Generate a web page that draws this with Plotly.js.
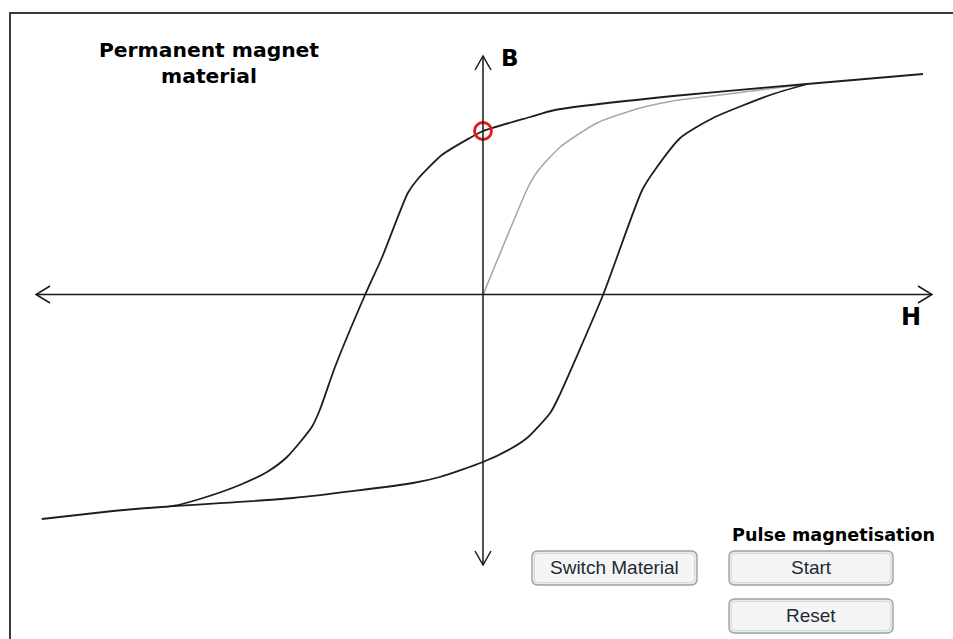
<!DOCTYPE html>
<html>
<head>
<meta charset="utf-8">
<script src="https://cdn.plot.ly/plotly-3.0.1.min.js"></script>
<style>
html,body{margin:0;padding:0;background:#fff;overflow:hidden;}
#chart{width:953px;height:639px;}
</style>
</head>
<body>
<div id="chart"></div>
<script>
// Hysteresis loop of a permanent magnet material (H in kA/m, B in T)
var downH = [1100, 810, 475, 180, 118, 0, -33, -103, -165, -188, -253, -295, -370, -408, -428, -490, -540, -608, -700, -775, -840, -925, -1103];
var downB = [1.105, 1.055, 0.995, 0.925, 0.89, 0.82, 0.785, 0.70, 0.575, 0.51, 0.185, 0, -0.36, -0.575, -0.66, -0.81, -0.885, -0.95, -1.015, -1.055, -1.065, -1.08, -1.12];
var upH = [-775, -475, -175, -108, 0, 68, 110, 168, 188, 300, 398, 435, 493, 575, 718, 810];
var upB = [-1.055, -1.015, -0.94, -0.91, -0.835, -0.77, -0.715, -0.59, -0.515, 0, 0.525, 0.64, 0.785, 0.885, 1.0, 1.055];
var initH = [0, 113, 135, 193, 285, 393, 475, 593, 810];
var initB = [0, 0.54, 0.615, 0.74, 0.86, 0.935, 0.97, 1.0, 1.055];
var remanenceH = [0];
var remanenceB = [0.82];

var W = 953, Hh = 639;
function px(x){ return x / W; }
function py(y){ return 1 - y / Hh; }

function roundRect(x0, y0, x1, y1, r){
  var rx = r / W, ry = r / Hh;
  var a = px(x0), b = px(x1), t = py(y0), u = py(y1);
  return 'M ' + (a+rx) + ' ' + t +
    ' L ' + (b-rx) + ' ' + t + ' Q ' + b + ' ' + t + ' ' + b + ' ' + (t-ry) +
    ' L ' + b + ' ' + (u+ry) + ' Q ' + b + ' ' + u + ' ' + (b-rx) + ' ' + u +
    ' L ' + (a+rx) + ' ' + u + ' Q ' + a + ' ' + u + ' ' + a + ' ' + (u+ry) +
    ' L ' + a + ' ' + (t-ry) + ' Q ' + a + ' ' + t + ' ' + (a+rx) + ' ' + t + ' Z';
}
function poly(pts){
  return pts.map(function(p, i){ return (i ? 'L ' : 'M ') + px(p[0]) + ' ' + py(p[1]); }).join(' ');
}

var traces = [
  {x: initH, y: initB, mode: 'lines', line: {color: '#a8a8a8', width: 1.6, shape: 'spline', smoothing: 0.6}, hoverinfo: 'skip'},
  {x: downH, y: downB, mode: 'lines', line: {color: '#1e1e1e', width: 1.8, shape: 'spline', smoothing: 0.6}, hoverinfo: 'skip'},
  {x: upH, y: upB, mode: 'lines', line: {color: '#1e1e1e', width: 1.8, shape: 'spline', smoothing: 0.6}, hoverinfo: 'skip'},
  {x: remanenceH, y: remanenceB, mode: 'markers',
   marker: {symbol: 'circle-open', size: 17, color: '#e8161b', line: {width: 2.8, color: '#e8161b'}}, hoverinfo: 'skip'}
];

var shapes = [];
// outer frame
shapes.push({type: 'rect', xref: 'paper', yref: 'paper', x0: px(10), x1: 1.02, y0: -0.02, y1: py(13),
  line: {color: '#3a3a3a', width: 2}, layer: 'below'});
// axes with arrow heads
var axisLine = {color: '#1a1a1a', width: 1.5};
shapes.push({type: 'line', xref: 'paper', yref: 'paper', x0: px(36), x1: px(932), y0: py(294.5), y1: py(294.5), line: axisLine});
shapes.push({type: 'line', xref: 'paper', yref: 'paper', x0: px(483), x1: px(483), y0: py(56), y1: py(565), line: axisLine});
shapes.push({type: 'path', xref: 'paper', yref: 'paper', path: poly([[50, 286], [36, 294.5], [50, 303]]), line: axisLine});
shapes.push({type: 'path', xref: 'paper', yref: 'paper', path: poly([[918, 286], [932, 294.5], [918, 303]]), line: axisLine});
shapes.push({type: 'path', xref: 'paper', yref: 'paper', path: poly([[475, 70], [483, 56], [491, 70]]), line: axisLine});
shapes.push({type: 'path', xref: 'paper', yref: 'paper', path: poly([[475, 551], [483, 565], [491, 551]]), line: axisLine});

// buttons
var buttons = [
  {label: 'Switch Material', box: [532, 551, 697, 585]},
  {label: 'Start', box: [729, 551, 893, 585]},
  {label: 'Reset', box: [729, 599, 893, 633]}
];
var annotations = [];
buttons.forEach(function(bt){
  var b = bt.box;
  shapes.push({type: 'path', xref: 'paper', yref: 'paper', path: roundRect(b[0], b[1], b[2], b[3], 6),
    fillcolor: '#e6eaea', line: {color: '#9aa3a3', width: 1.4}});
  shapes.push({type: 'path', xref: 'paper', yref: 'paper', path: roundRect(b[0]+2.5, b[1]+2.5, b[2]-2.5, b[3]-2.5, 4),
    fillcolor: '#f5f5f5', line: {color: '#d6dcdc', width: 1}});
  annotations.push({xref: 'paper', yref: 'paper', x: px((b[0]+b[2])/2), y: py((b[1]+b[3])/2 - 1),
    text: bt.label, showarrow: false, xanchor: 'center', yanchor: 'middle',
    font: {family: 'Liberation Sans, Arial, sans-serif', size: 19, color: '#1d2b38'}});
});

var boldFont = 'DejaVu Sans, Verdana, sans-serif';
annotations.push({xref: 'paper', yref: 'paper', x: px(209), y: py(63), text: '<b>Permanent magnet<br>material</b>',
  showarrow: false, xanchor: 'center', yanchor: 'middle', align: 'center',
  font: {family: boldFont, size: 20.3, color: '#000'}});
annotations.push({xref: 'paper', yref: 'paper', x: px(510), y: py(58), text: '<b>B</b>',
  showarrow: false, xanchor: 'center', yanchor: 'middle', font: {family: boldFont, size: 23, color: '#000'}});
annotations.push({xref: 'paper', yref: 'paper', x: px(911), y: py(317), text: '<b>H</b>',
  showarrow: false, xanchor: 'center', yanchor: 'middle', font: {family: boldFont, size: 24, color: '#000'}});
annotations.push({xref: 'paper', yref: 'paper', x: px(833), y: py(535), text: '<b>Pulse magnetisation</b>',
  showarrow: false, xanchor: 'center', yanchor: 'middle', font: {family: boldFont, size: 17.6, color: '#000'}});

var layout = {
  width: W, height: Hh,
  margin: {l: 0, r: 0, t: 0, b: 0, pad: 0},
  paper_bgcolor: '#fff', plot_bgcolor: '#fff',
  showlegend: false,
  xaxis: {range: [-1207.5, 1175], visible: false, fixedrange: true},
  yaxis: {range: [-1.72, 1.475], visible: false, fixedrange: true},
  shapes: shapes,
  annotations: annotations
};

Plotly.newPlot('chart', traces, layout, {displayModeBar: false, staticPlot: true});
</script>
</body>
</html>
